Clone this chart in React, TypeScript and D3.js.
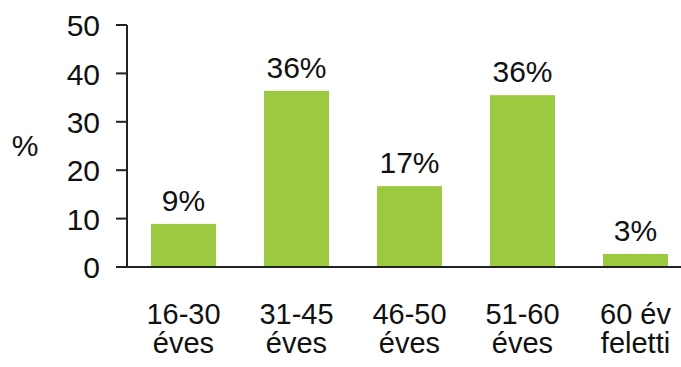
import React from "react";
import * as d3 from "d3";

const categories = ["16-30 éves", "31-45 éves", "46-50 éves", "51-60 éves", "60 év feletti"];
const categoryLines = [["16-30", "éves"], ["31-45", "éves"], ["46-50", "éves"], ["51-60", "éves"], ["60 év", "feletti"]];
const values = [8.9, 36.4, 16.7, 35.5, 2.7];
const valueLabels = ["9%", "36%", "17%", "36%", "3%"];
const yTicks = [0, 10, 20, 30, 40, 50];

const W = 681;
const H = 367;
const left = 127;
const right = 692;
const top = 25;
const bottom = 267;
const font = "'Liberation Sans', Arial, sans-serif";
const fs = 30;
const cfs = 29;

export default function App() {
  const x = d3.scaleBand<string>().domain(categories).range([left, right]).paddingInner(0.425).paddingOuter(0.2125);
  const y = d3.scaleLinear().domain([0, 50]).range([bottom, top]);
  return (
    <svg width={W} height={H} style={{ position: "absolute", left: 0, top: 0, background: "#fff" }} fontFamily={font}>
      {categories.map((c, i) => (
        <rect key={c} x={x(c)!} y={y(values[i])} width={x.bandwidth()} height={y(0) - y(values[i])} fill="#9BC940" />
      ))}
      {categories.map((c, i) => (
        <text key={"v" + c} x={x(c)! + x.bandwidth() / 2} y={y(values[i]) - 13} textAnchor="middle" fontSize={fs} fill="#111">
          {valueLabels[i]}
        </text>
      ))}
      <line x1={left} x2={left} y1={top} y2={bottom} stroke="#222" strokeWidth={2} />
      <line x1={116} x2={W} y1={bottom} y2={bottom} stroke="#222" strokeWidth={2} />
      {yTicks.map((t) => (
        <g key={t}>
          <line x1={116} x2={left} y1={y(t)} y2={y(t)} stroke="#222" strokeWidth={2} />
          <text x={100} y={y(t)} dy="0.37em" textAnchor="end" fontSize={fs} fill="#111">
            {t}
          </text>
        </g>
      ))}
      <text x={25} y={145} dy="0.36em" textAnchor="middle" fontSize={fs} fill="#111">%</text>
      {categories.map((c, i) => (
        <text key={"c" + c} x={x(c)! + x.bandwidth() / 2} y={325} textAnchor="middle" fontSize={cfs} fill="#111">
          {categoryLines[i].map((l, j) => (
            <tspan key={j} x={x(c)! + x.bandwidth() / 2} y={324 + j * 29}>{l}</tspan>
          ))}
        </text>
      ))}
    </svg>
  );
}
